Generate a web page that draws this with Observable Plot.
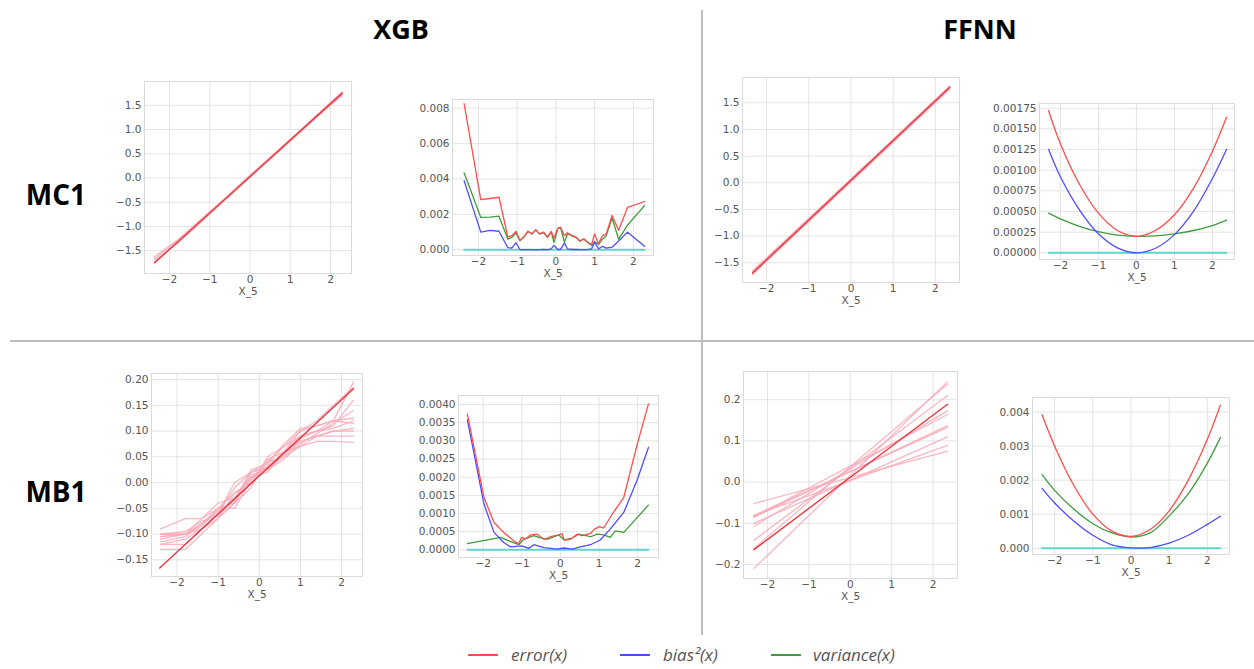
<!DOCTYPE html>
<html><head><meta charset="utf-8">
<script src="https://cdn.jsdelivr.net/npm/d3@7"></script>
<script src="https://cdn.jsdelivr.net/npm/@observablehq/plot@0.6"></script>
<style>
body{margin:0;background:#fff;}
#root{position:relative;width:1254px;height:669px;overflow:hidden;font-family:"Open Sans",sans-serif;background:#fff;}
.title{position:absolute;font-weight:700;font-size:27px;color:#000;transform:translate(-50%,-50%);white-space:nowrap;line-height:1}
.row{font-size:28px}
.vline{position:absolute;left:701px;top:10px;width:2px;height:625px;background:#bdbdbd}
.hline{position:absolute;left:10px;top:340px;width:1244px;height:2px;background:#bdbdbd}
.legline{position:absolute;height:2px;width:30px;top:654px}
.legtxt{position:absolute;top:644px;font-style:italic;font-size:17px;color:#555;line-height:22px;white-space:nowrap}
</style></head>
<body><div id="root">
<div class="vline"></div><div class="hline"></div>
<div class="title" style="left:401px;top:28px">XGB</div>
<div class="title" style="left:980px;top:28px">FFNN</div>
<div class="title row" style="left:56px;top:194px">MC1</div>
<div class="title row" style="left:56px;top:491px">MB1</div>
</div>
<script>
// ---------- data ----------
const xTicks = [-2, -1, 0, 1, 2];
const ticksMc1Left = [-1.5, -1.0, -0.5, 0.0, 0.5, 1.0, 1.5];
const ticksXgbMc1Right = [0, 0.002, 0.004, 0.006, 0.008];
const ticksFfnnMc1Right = [0, 0.00025, 0.0005, 0.00075, 0.001, 0.00125, 0.0015, 0.00175];
const ticksXgbMb1Left = [-0.15, -0.10, -0.05, 0.00, 0.05, 0.10, 0.15, 0.20];
const ticksXgbMb1Right = [0, 0.0005, 0.001, 0.0015, 0.002, 0.0025, 0.003, 0.0035, 0.004];
const ticksFfnnMb1Left = [-0.2, -0.1, 0.0, 0.1, 0.2];
const ticksFfnnMb1Right = [0, 0.001, 0.002, 0.003, 0.004];

const legendLabels = ["error(x)", "bias\u00b2(x)", "variance(x)"];

// XGB / MC1 left
const xgbMc1PredX = [-2.37, -1.8, -1.2, -0.6, 0, 0.6, 1.2, 1.8, 2.29];
const xgbMc1Preds = [
  [-1.62, -1.28, -0.84, -0.40, 0.06, 0.50, 0.95, 1.40, 1.78],
  [-1.70, -1.35, -0.90, -0.44, 0.01, 0.46, 0.91, 1.36, 1.72],
  [-1.66, -1.30, -0.88, -0.41, 0.04, 0.49, 0.94, 1.41, 1.76],
  [-1.74, -1.33, -0.86, -0.43, 0.02, 0.47, 0.92, 1.37, 1.70]
];
const xgbMc1TrueX = [-2.37, 2.29];
const xgbMc1TrueY = [-1.75, 1.75];

// XGB / MC1 right
const xgbMc1X = [-2.37,-1.94,-1.70,-1.47,-1.24,-1.14,-1.03,-0.93,-0.83,-0.72,-0.62,-0.52,-0.42,-0.32,-0.22,-0.12,-0.05,0.05,0.12,0.22,0.30,0.42,0.52,0.62,0.72,0.82,0.92,1.00,1.10,1.20,1.30,1.45,1.62,1.85,2.29];
const xgbMc1Err = [0.00825,0.00284,0.00290,0.00297,0.00072,0.00080,0.00105,0.00053,0.00072,0.00105,0.00090,0.00113,0.00090,0.00100,0.00072,0.00105,0.00066,0.00122,0.00128,0.00080,0.00096,0.00080,0.00072,0.00050,0.00062,0.00043,0.00030,0.00090,0.00035,0.00080,0.00090,0.00194,0.00110,0.00240,0.00273];
const xgbMc1Bias = [0.00390,0.00100,0.00110,0.00105,0.00012,0.00010,0.00040,0.00002,0.00001,0.00001,0.00001,0.00000,0.00001,0.00002,0.00001,0.00005,0.00025,0.00002,0.00003,0.00038,0.00005,0.00002,0.00002,0.00001,0.00001,0.00002,0.00005,0.00045,0.00005,0.00020,0.00010,0.00015,0.00050,0.00100,0.00020];
const xgbMc1Var = [0.00435,0.00183,0.00185,0.00190,0.00060,0.00070,0.00095,0.00051,0.00071,0.00104,0.00089,0.00113,0.00089,0.00098,0.00071,0.00100,0.00041,0.00120,0.00125,0.00042,0.00091,0.00078,0.00070,0.00049,0.00061,0.00041,0.00025,0.00045,0.00030,0.00060,0.00080,0.00180,0.00060,0.00140,0.00250];
const xgbMc1NoiseX = [-2.37, 2.29];

// FFNN / MC1 left
const ffnnMc1PredX = [-2.33, 2.34];
const ffnnMc1Preds = [[-1.65, 1.80], [-1.72, 1.76], [-1.67, 1.82], [-1.70, 1.78]];
const ffnnMc1TrueY = [-1.69, 1.79];

// FFNN / MC1 right
const ffnnMc1X = [-2.31, -2, -1.5, -1, -0.5, 0, 0.5, 1, 1.5, 2, 2.37];
const ffnnMc1Err = [0.00172,0.00132,0.00083,0.00048,0.00027,0.00020,0.00027,0.00046,0.00078,0.00123,0.00164];
const ffnnMc1Bias = [0.00125,0.00092,0.00052,0.00023,0.00006,0.00000,0.000055,0.00022,0.00050,0.00090,0.00125];
const ffnnMc1Var = [0.00048,0.00041,0.00032,0.000255,0.000215,0.00020,0.000205,0.00023,0.00027,0.00033,0.000395];

// XGB / MB1 left
const xgbMb1PredX = [-2.40, -1.80, -1.40, -1.00, -0.60, -0.20, 0.20, 0.60, 1.00, 1.40, 1.80, 2.29];
const xgbMb1Preds = [
  [-0.100,-0.100,-0.080,-0.060,-0.030,0.010,0.030,0.060,0.090,0.100,0.120,0.195],
  [-0.105,-0.100,-0.070,-0.050,-0.020,0.000,0.040,0.070,0.100,0.110,0.120,0.125],
  [-0.120,-0.110,-0.090,-0.060,-0.010,0.020,0.030,0.050,0.080,0.090,0.090,0.090],
  [-0.130,-0.130,-0.100,-0.070,-0.040,0.010,0.020,0.060,0.070,0.080,0.080,0.078],
  [-0.090,-0.070,-0.070,-0.040,-0.030,0.020,0.030,0.060,0.100,0.120,0.150,0.185],
  [-0.110,-0.100,-0.080,-0.050,-0.040,-0.010,0.050,0.070,0.090,0.100,0.110,0.160],
  [-0.100,-0.100,-0.090,-0.060,0.000,0.020,0.040,0.050,0.070,0.090,0.100,0.105],
  [-0.115,-0.105,-0.080,-0.055,-0.035,0.015,0.025,0.045,0.075,0.095,0.115,0.140],
  [-0.120,-0.120,-0.090,-0.070,-0.020,0.000,0.030,0.055,0.085,0.100,0.105,0.120],
  [-0.100,-0.095,-0.075,-0.065,-0.040,0.025,0.035,0.075,0.105,0.110,0.120,0.115],
  [-0.105,-0.100,-0.085,-0.050,-0.050,0.005,0.045,0.060,0.080,0.090,0.100,0.100]
];
const xgbMb1TrueX = [-2.42, 2.29];
const xgbMb1TrueY = [-0.166, 0.182];

// XGB / MB1 right
const xgbMb1ErrX = [-2.41,-1.98,-1.72,-1.47,-1.21,-1.08,-1.01,-0.90,-0.78,-0.60,-0.43,-0.26,-0.04,0.04,0.10,0.26,0.43,0.56,0.78,0.88,1.01,1.12,1.34,1.64,1.98,2.28];
const xgbMb1Err = [0.00374,0.00144,0.00075,0.00048,0.00025,0.00016,0.00034,0.00030,0.00041,0.00043,0.00029,0.00036,0.00041,0.00045,0.00027,0.00029,0.00043,0.00039,0.00045,0.00057,0.00064,0.00060,0.00098,0.00144,0.00287,0.00402];
const xgbMb1BiasX = [-2.41,-1.98,-1.72,-1.47,-1.29,-1.00,-0.82,-0.69,-0.43,-0.09,0.09,0.30,0.52,0.78,1.03,1.29,1.64,1.98,2.28];
const xgbMb1Bias = [0.00358,0.00126,0.00048,0.00020,0.00008,0.00011,0.00004,0.00014,0.00006,0.00002,0.00005,0.00002,0.00008,0.00014,0.00027,0.00057,0.00103,0.00190,0.00282];
const xgbMb1VarX = [-2.41,-1.55,-1.08,-0.95,-0.69,-0.56,-0.34,-0.04,0.10,0.30,0.47,0.78,0.95,1.12,1.29,1.42,1.64,2.28];
const xgbMb1Var = [0.00017,0.00034,0.00014,0.00029,0.00039,0.00034,0.00029,0.00041,0.00027,0.00032,0.00043,0.00036,0.00043,0.00041,0.00034,0.00052,0.00048,0.00123];
const xgbMb1NoiseX = [-2.41, 2.28];

// FFNN / MB1 left
const ffnnMb1PredX = [-2.33, 2.35];
const ffnnMb1Preds = [[-0.210,0.244],[-0.161,0.238],[-0.141,0.210],[-0.107,0.173],[-0.085,0.164],[-0.085,0.137],[-0.081,0.133],[-0.052,0.075],[-0.081,0.089],[-0.100,0.110]];
const ffnnMb1TrueY = [-0.164, 0.189];

// FFNN / MB1 right
const ffnnMb1X = [-2.33, -2, -1.5, -1, -0.5, 0, 0.5, 1, 1.5, 2, 2.34];
const ffnnMb1Err = [0.00392,0.00300,0.00185,0.00100,0.00050,0.00035,0.00055,0.00110,0.00200,0.00320,0.00420];
const ffnnMb1Bias = [0.00176,0.00133,0.00080,0.00038,0.00010,0.00001,0.00002,0.00015,0.00038,0.00070,0.00094];
const ffnnMb1Var = [0.00216,0.00170,0.00115,0.00072,0.00045,0.00033,0.00045,0.00095,0.00160,0.00250,0.00325];

// ---------- styles ----------
const C_ERR = "#ff4d4d", C_BIAS = "#4d4dff", C_VAR = "#3f9c3f", C_NOISE = "#5fd6d0";
const C_PRED = "#f7aab8", C_TRUE = "#e8393f";

// ---------- helpers ----------
const rows = (xs, ys) => xs.map((x, i) => ({x, y: ys[i]}));
const predRows = (xs, lines) => lines.flatMap((ys, k) => xs.map((x, i) => ({x, y: ys[i], k})));

function predMarks(xs, lines, tx, ty) {
  return [
    Plot.line(predRows(xs, lines), {x: "x", y: "y", z: "k", stroke: C_PRED, strokeWidth: 1.3, strokeOpacity: 0.85}),
    Plot.line(rows(tx, ty), {x: "x", y: "y", stroke: C_TRUE, strokeWidth: 1.4})
  ];
}
function bvMarks(ex, ey, bx, by, vx, vy, nx, curve) {
  return [
    Plot.line(rows(nx, [0, 0]), {x: "x", y: "y", stroke: C_NOISE, strokeWidth: 2}),
    Plot.line(rows(vx, vy), {x: "x", y: "y", stroke: C_VAR, strokeWidth: 1.3, curve}),
    Plot.line(rows(bx, by), {x: "x", y: "y", stroke: C_BIAS, strokeWidth: 1.3, curve}),
    Plot.line(rows(ex, ey), {x: "x", y: "y", stroke: C_ERR, strokeWidth: 1.3, curve})
  ];
}

const root = document.getElementById("root");
function panel(cfg) {
  const ml = 62, mr = 12, mt = 12, mb = 34;
  const svg = Plot.plot({
    width: cfg.x1 - cfg.x0 + ml + mr,
    height: cfg.y1 - cfg.y0 + mt + mb,
    marginLeft: ml, marginRight: mr, marginTop: mt, marginBottom: mb,
    style: {fontFamily: "DejaVu Sans", fontSize: "10.5px", color: "#555", background: "transparent", overflow: "visible"},
    x: {domain: cfg.xdom, ticks: xTicks, tickSize: 0, tickPadding: 2, tickFormat: d3.format("d"), label: null},
    y: {domain: cfg.ydom, ticks: cfg.yticks, tickSize: 0, tickPadding: 3, tickFormat: d3.format(cfg.fmt), label: null},
    marks: [
      Plot.gridX(xTicks, {stroke: "#e4e4e4", strokeOpacity: 1}),
      Plot.gridY(cfg.yticks, {stroke: "#e4e4e4", strokeOpacity: 1}),
      Plot.frame({stroke: "#dadada"}),
      ...cfg.marks,
      Plot.text(["X_5"], {frameAnchor: "bottom", dy: 21, fill: "#555", fontSize: 10.5})
    ]
  });
  svg.style.position = "absolute";
  svg.style.left = (cfg.x0 - ml) + "px";
  svg.style.top = (cfg.y0 - mt) + "px";
  svg.style.maxWidth = "none";
  root.appendChild(svg);
}

// ---------- panels ----------
panel({x0: 144, x1: 351, y0: 81, y1: 273, xdom: [-2.62, 2.52], ydom: [-1.97, 1.99], yticks: ticksMc1Left, fmt: ".1f",
  marks: predMarks(xgbMc1PredX, xgbMc1Preds, xgbMc1TrueX, xgbMc1TrueY)});
panel({x0: 452, x1: 653, y0: 99, y1: 255, xdom: [-2.67, 2.52], ydom: [-0.00032, 0.00849], yticks: ticksXgbMc1Right, fmt: ".3f",
  marks: bvMarks(xgbMc1X, xgbMc1Err, xgbMc1X, xgbMc1Bias, xgbMc1X, xgbMc1Var, xgbMc1NoiseX, "linear")});
panel({x0: 742, x1: 959, y0: 77, y1: 282, xdom: [-2.57, 2.57], ydom: [-1.87, 1.975], yticks: ticksMc1Left, fmt: ".1f",
  marks: predMarks(ffnnMc1PredX, ffnnMc1Preds, ffnnMc1PredX, ffnnMc1TrueY)});
panel({x0: 1039, x1: 1234, y0: 103, y1: 259, xdom: [-2.55, 2.58], ydom: [-0.000081, 0.001807], yticks: ticksFfnnMc1Right, fmt: ".5f",
  marks: bvMarks(ffnnMc1X, ffnnMc1Err, ffnnMc1X, ffnnMc1Bias, ffnnMc1X, ffnnMc1Var, [-2.31, 2.37], "catmull-rom")});
panel({x0: 151, x1: 362, y0: 373, y1: 576, xdom: [-2.62, 2.51], ydom: [-0.1824, 0.2117], yticks: ticksXgbMb1Left, fmt: ".2f",
  marks: predMarks(xgbMb1PredX, xgbMb1Preds, xgbMb1TrueX, xgbMb1TrueY)});
panel({x0: 458, x1: 658, y0: 395, y1: 557, xdom: [-2.64, 2.54], ydom: [-0.000212, 0.00425], yticks: ticksXgbMb1Right, fmt: ".4f",
  marks: bvMarks(xgbMb1ErrX, xgbMb1Err, xgbMb1BiasX, xgbMb1Bias, xgbMb1VarX, xgbMb1Var, xgbMb1NoiseX, "linear")});
panel({x0: 743, x1: 957, y0: 371, y1: 578, xdom: [-2.58, 2.59], ydom: [-0.234, 0.2685], yticks: ticksFfnnMb1Left, fmt: ".1f",
  marks: predMarks(ffnnMb1PredX, ffnnMb1Preds, ffnnMb1PredX, ffnnMb1TrueY)});
panel({x0: 1032, x1: 1229, y0: 397, y1: 554, xdom: [-2.58, 2.58], ydom: [-0.000185, 0.00443], yticks: ticksFfnnMb1Right, fmt: ".3f",
  marks: bvMarks(ffnnMb1X, ffnnMb1Err, ffnnMb1X, ffnnMb1Bias, ffnnMb1X, ffnnMb1Var, [-2.33, 2.34], "catmull-rom")});

// ---------- legend ----------
const legColors = [C_ERR, C_BIAS, C_VAR];
const legLineX = [468, 620, 771];
const legTextX = [511, 663, 813];
legendLabels.forEach((lab, i) => {
  const ln = document.createElement("div");
  ln.className = "legline";
  ln.style.left = legLineX[i] + "px";
  ln.style.background = legColors[i];
  root.appendChild(ln);
  const t = document.createElement("div");
  t.className = "legtxt";
  t.style.left = legTextX[i] + "px";
  t.textContent = lab;
  root.appendChild(t);
});
</script>
</body></html>
